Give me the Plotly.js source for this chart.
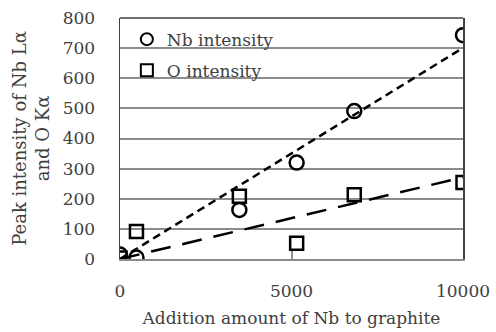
<!DOCTYPE html>
<html>
<head>
<meta charset="utf-8">
<script src="https://cdn.plot.ly/plotly-3.0.1.min.js"></script>
<style>html,body{margin:0;padding:0;background:#fff;}#chart{width:496px;height:332px;}</style>
</head>
<body>
<div id="chart"></div>
<script>
// Data
const additionNb = [0, 480, 3480, 5150, 6830, 10000];
const nbIntensity = [15, 5, 163, 320, 491, 743];
const oIntensity = [3, 91, 208, 52, 213, 254];
const xTickVals = [0, 5000, 10000];
const xTickText = ['0', '5000', '10000'];
const yTickVals = [0, 100, 200, 300, 400, 500, 600, 700, 800];

// Linear trendlines (least squares through the origin), computed from the data
function slopeThroughOrigin(xs, ys) {
  let sxy = 0, sxx = 0;
  for (let i = 0; i < xs.length; i++) { sxy += xs[i] * ys[i]; sxx += xs[i] * xs[i]; }
  return sxy / sxx;
}
const fitX = [0, 10000];
const nbSlope = slopeThroughOrigin(additionNb, nbIntensity);
const oSlope = slopeThroughOrigin(additionNb, oIntensity);

const font = 'DejaVu Serif';
const txt = '#404040';
const gridCol = '#8c8c8c';

const traces = [
  {x: fitX, y: fitX.map(v => v * nbSlope), mode: 'lines', showlegend: false,
   line: {color: '#000', width: 2.5, dash: '8px,5px'}, hoverinfo: 'skip'},
  {x: fitX, y: fitX.map(v => v * oSlope), mode: 'lines', showlegend: false,
   line: {color: '#000', width: 2.5, dash: '20px,12px'}, hoverinfo: 'skip'},
  {x: additionNb, y: nbIntensity, mode: 'markers', name: 'Nb intensity', legendgroup: 'a',
   marker: {symbol: 'circle-open', size: 14, color: '#000', line: {width: 2.5, color: '#000'}}},
  {x: additionNb, y: oIntensity, mode: 'markers', name: 'O intensity', legendgroup: 'b',
   marker: {symbol: 'square-open', size: 13, color: '#000', line: {width: 2.5, color: '#000'}}}
];

const layout = {
  width: 496, height: 332,
  margin: {l: 120, r: 33, t: 18, b: 73},
  paper_bgcolor: '#fff', plot_bgcolor: '#fff',
  font: {family: font, size: 17, color: txt},
  showlegend: true,
  legend: {x: 0.02, y: 0.985, xanchor: 'left', yanchor: 'top', bgcolor: 'rgba(0,0,0,0)',
           font: {family: font, size: 17, color: txt}, itemwidth: 30, tracegroupgap: 6,
           traceorder: 'grouped', itemsizing: 'constant'},
  xaxis: {range: [0, 10000], tickmode: 'array', tickvals: xTickVals, ticktext: xTickText,
          showgrid: false, zeroline: false, showline: true, linecolor: gridCol, linewidth: 2,
          ticks: 'inside', ticklen: 8, tickcolor: gridCol, tickwidth: 2,
          ticklabelstandoff: 16, tickfont: {family: font, size: 17, color: txt},
          title: {text: 'Addition amount of Nb to graphite', standoff: 12,
                  font: {family: font, size: 17, color: txt}}},
  yaxis: {range: [0, 800], tickmode: 'array', tickvals: yTickVals,
          showgrid: true, gridcolor: gridCol, gridwidth: 2, zeroline: false,
          showline: true, mirror: true, linecolor: '#404040', linewidth: 1.5,
          ticks: 'outside', ticklen: 20, tickcolor: 'rgba(0,0,0,0)',
          tickfont: {family: font, size: 17, color: txt},
          title: {text: 'Peak intensity of Nb Lα<br>and O Kα', standoff: 8,
                  font: {family: font, size: 18, color: txt}}},
  shapes: [{type: 'line', xref: 'paper', yref: 'paper', x0: 0, x1: 1, y0: 1, y1: 1,
            line: {color: '#404040', width: 1.5}}]
};

Plotly.newPlot('chart', traces, layout, {displayModeBar: false, staticPlot: true});
</script>
</body>
</html>
